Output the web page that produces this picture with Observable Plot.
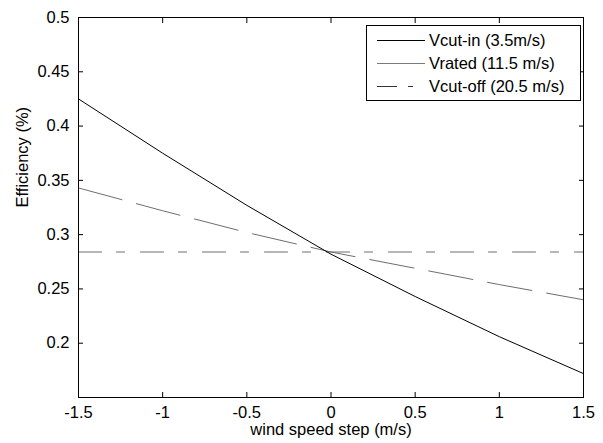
<!DOCTYPE html>
<html><head><meta charset="utf-8">
<script src="https://cdn.jsdelivr.net/npm/d3@7"></script>
<script src="https://cdn.jsdelivr.net/npm/@observablehq/plot@0.6"></script>
<style>body{margin:0;background:#fff}#chart svg{display:block}</style>
</head><body><div id="chart"></div>
<script>
const windStep = [-1.5, -1, -0.5, 0, 0.5, 1, 1.5];
const vcutIn = [0.425, 0.375, 0.327, 0.282, 0.243, 0.206, 0.172];
const vrated = [0.343, 0.322, 0.302, 0.284, 0.269, 0.254, 0.240];
const vcutOff = [0.284, 0.284, 0.284, 0.284, 0.284, 0.284, 0.284];
const xTicks = [-1.5, -1, -0.5, 0, 0.5, 1, 1.5];
const yTicks = [0.2, 0.25, 0.3, 0.35, 0.4, 0.45, 0.5];
const seriesNames = ["Vcut-in (3.5m/s)", "Vrated (11.5 m/s)", "Vcut-off (20.5 m/s)"];
const xTitle = "wind speed step (m/s)";
const yTitle = "Efficiency (%)";

const rows = (ys) => windStep.map((x, i) => ({x, y: ys[i]}));

const fmt = d => String(d);
const plot = Plot.plot({
  width: 603, height: 443,
  marginLeft: 78, marginRight: 20, marginTop: 17, marginBottom: 46,
  style: {fontFamily: "'Liberation Sans', Arial, sans-serif", fontSize: "16.5px", background: "#fff", color: "#000"},
  x: {domain: [-1.5, 1.5]},
  y: {domain: [0.15, 0.5]},
  marks: [
    Plot.line(rows(vcutOff), {x: "x", y: "y", stroke: "#6e6e6e", strokeWidth: 1.2, strokeDasharray: "23,15,8,16"}),
    Plot.line(rows(vrated), {x: "x", y: "y", stroke: "#6e6e6e", strokeWidth: 1, strokeDasharray: "45,15"}),
    Plot.line(rows(vcutIn), {x: "x", y: "y", stroke: "#000", strokeWidth: 1}),
    Plot.frame({stroke: "#000", strokeWidth: 1}),
    Plot.axisX({anchor: "bottom", ticks: xTicks, tickSize: -5, tickPadding: 14, tickFormat: fmt, label: null}),
    Plot.axisX({anchor: "top", ticks: xTicks, tickSize: -5, tickFormat: () => "", label: null}),
    Plot.axisY({anchor: "left", ticks: yTicks, tickSize: -5, tickPadding: 14, tickFormat: fmt, label: null}),
    Plot.axisY({anchor: "right", ticks: yTicks, tickSize: -5, tickFormat: () => "", label: null}),
    Plot.text([xTitle], {frameAnchor: "bottom", dy: 37, text: d => d, fill: "#000"}),
    Plot.text([yTitle], {frameAnchor: "left", dx: -56, rotate: -90, text: d => d, fill: "#000"})
  ]
});
document.getElementById("chart").appendChild(plot);

// legend (MATLAB style box, top-right)
const svg = d3.select(plot);
const lg = svg.append("g")
  .attr("font-family", "'Liberation Sans', Arial, sans-serif")
  .attr("font-size", 16.5)
  .attr("text-anchor", "start");
lg.append("rect").attr("x", 366.5).attr("y", 25.5).attr("width", 214).attr("height", 75)
  .attr("fill", "#fff").attr("stroke", "#000").attr("stroke-width", 1);
const legendStyles = [
  {stroke: "#000", dash: null},
  {stroke: "#7a7a7a", dash: null},
  {stroke: "#333", dash: "20,11,5,100"}
];
const rowY = [40.5, 63.5, 86.5];
seriesNames.forEach((name, i) => {
  const l = lg.append("line").attr("x1", 377).attr("x2", 425).attr("y1", rowY[i]).attr("y2", rowY[i])
    .attr("stroke", legendStyles[i].stroke).attr("stroke-width", 1);
  if (legendStyles[i].dash) l.attr("stroke-dasharray", legendStyles[i].dash);
  lg.append("text").attr("x", 429).attr("y", rowY[i]).attr("dy", "0.35em")
    .attr("text-anchor", "start").attr("fill", "#000").text(name);
});
</script>
</body></html>
